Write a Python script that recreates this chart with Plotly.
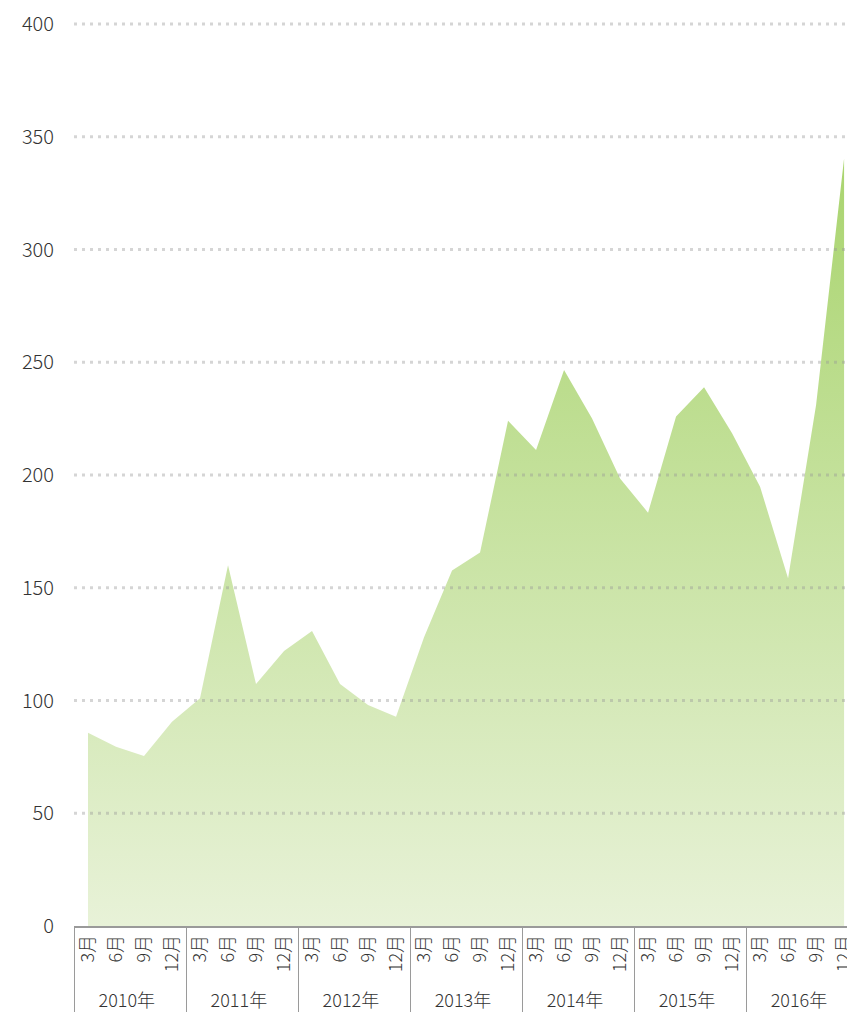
import plotly.graph_objects as go

# quarterly values, 2010-2016
years = ["2010年", "2011年", "2012年", "2013年", "2014年", "2015年", "2016年"]
months = ["3月", "6月", "9月", "12月"]
values = [
    85.7, 79.5, 75.4, 90.6,
    101, 160, 107.3, 122,
    130.8, 107.3, 98, 92.8,
    128, 157.6, 165.6, 224.1,
    211.1, 246.6, 225.1, 198.5,
    183.3, 225.9, 238.9, 218.5,
    194.8, 154.2, 231, 340.4,
]
y_ticks = [0, 50, 100, 150, 200, 250, 300, 350, 400]

x_year = [y for y in years for _ in months]
x_month = [m for _ in years for m in months]

FONT = "Noto Sans CJK JP"

fig = go.Figure(go.Scatter(
    x=[x_year, x_month],
    y=values,
    mode="lines",
    line=dict(width=0),
    fill="tozeroy",
    fillgradient=dict(
        type="vertical",
        start=0,
        stop=340,
        colorscale=[[0, "#e8f2d8"], [1, "#a9d46e"]],
    ),
    hoverinfo="x+y",
))

# dotted grid drawn above the area (the original shows it through the fill)
for t in y_ticks[1:]:
    fig.add_shape(
        type="line", xref="paper", yref="y",
        x0=0, x1=1, y0=t, y1=t,
        layer="above",
        line=dict(color="rgba(150,150,150,0.4)", width=3, dash="3px,5px"),
    )

# the page body has an 8px margin, so size/margins are offset by that
fig.update_layout(
    width=847,
    height=1015,
    margin=dict(l=66, r=0, t=7, b=97),
    plot_bgcolor="white",
    paper_bgcolor="white",
    showlegend=False,
    font=dict(family=FONT, color="#333333", weight=300),
)

fig.update_yaxes(
    range=[0, 404],
    tickvals=y_ticks,
    showgrid=False,
    zeroline=False,
    tickfont=dict(size=20, family=FONT, color="#333333", weight=300),
    ticklabelstandoff=19,
)

fig.update_xaxes(
    type="multicategory",
    range=[-0.5, 27.39],
    showgrid=False,
    showline=True,
    linecolor="#9a9a9a",
    linewidth=1.5,
    showdividers=True,
    dividercolor="#9a9a9a",
    dividerwidth=1,
    tickangle=-90,
    tickfont=dict(size=18, family=FONT, color="#333333", weight=300),
)

fig.write_html("out.html")
